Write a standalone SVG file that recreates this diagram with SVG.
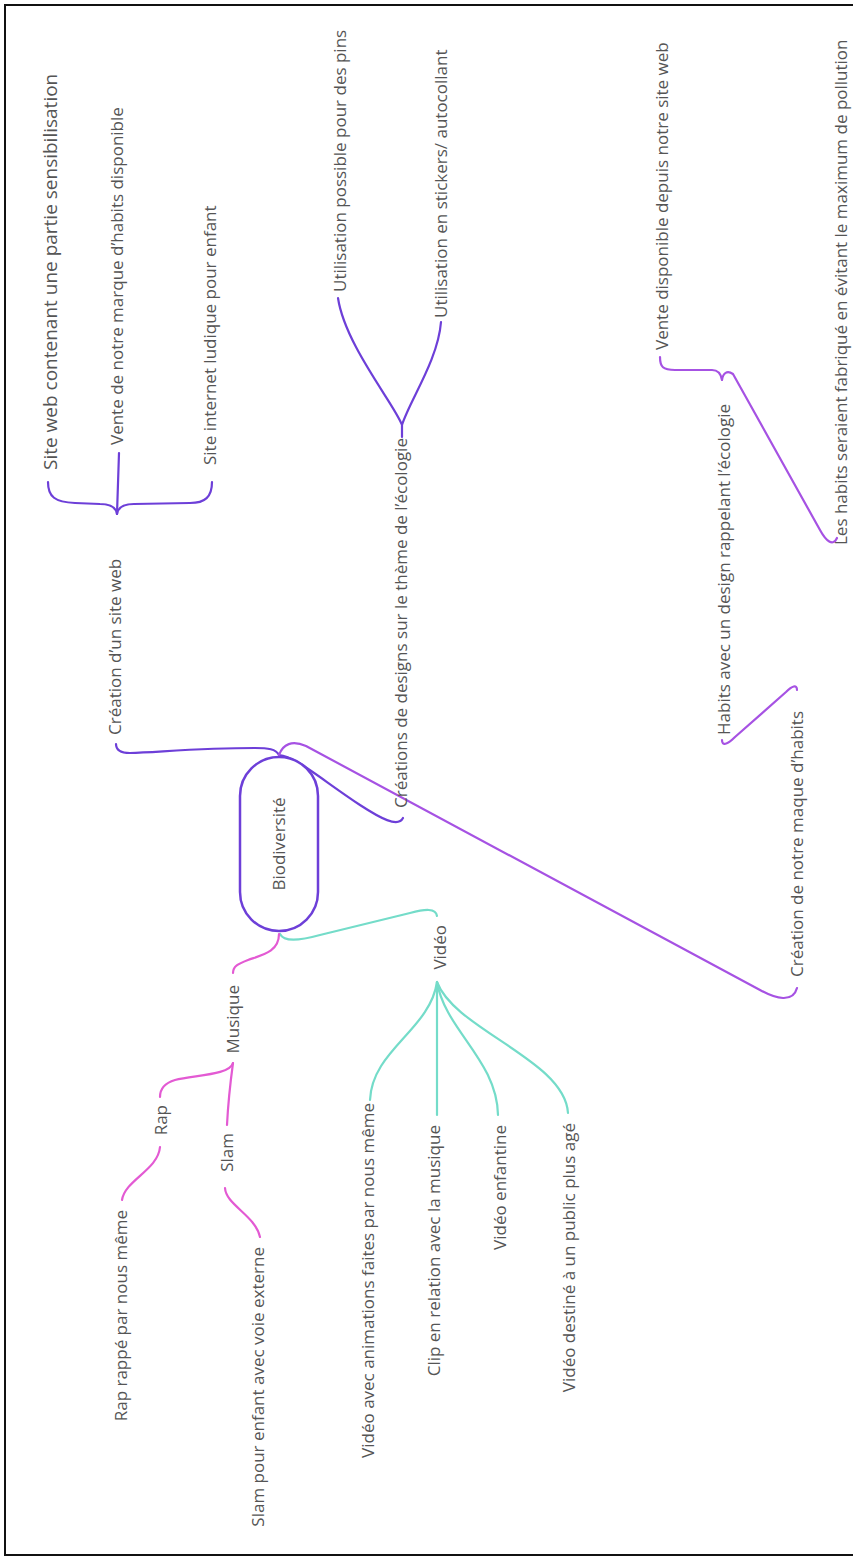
<svg xmlns="http://www.w3.org/2000/svg" width="853" height="1559" viewBox="0 0 853 1559">
<style>
.t{font-family:"Open Sans","Noto Sans",sans-serif;font-size:17px;fill:#555}
.e{text-anchor:end}
.c{fill:none;stroke-width:2.2;stroke-linecap:round;stroke-linejoin:round}
.p1{stroke:#6d3fd8}
.p2{stroke:#a652e3}
.pk{stroke:#e35ad3}
.tl{stroke:#74dcc9}
</style>
<rect width="853" height="1559" fill="#fff"/>
<path d="M853,5 H5 V1555 H853" fill="none" stroke="#111" stroke-width="2"/>
<g id="connectors">
<path class="c p1" d="M279,755 C276,749 268,748 255,748 C200,748 160,752 130,753 C120,753 116,750 116,744"/>
<path class="c p1" d="M279,755 C295,756 322,780 360,805 C380,818 398,828 403,818"/>
<path class="c p2" d="M279,755 C283,744 292,740 306,746 L760,990 C776,999 793,1003 797,988"/>
<path class="c p1" d="M48,482 C48,497 55,502 75,503 L100,504 C110,504 116,507 117,514 C118,507 124,504 134,504 L190,503 C205,503 212,497 212,482"/>
<path class="c p1" d="M117,514 L119,453"/>
<path class="c p1" d="M402,437 L402,425 C395,405 345,345 338,298"/>
<path class="c p1" d="M402,425 C410,400 438,360 441,322"/>
<path class="c p2" d="M797,690 C797,684 792,686 786,692 L735,737 C727,745 722,746 722,740"/>
<path class="c p2" d="M660,357 C660,367 663,370 675,370 L712,370 C718,370 721,374 722,380 C723,373 727,370 733,374 L820,530 C826,541 833,547 837,538"/>
<path class="c tl" d="M280,934 C284,942 298,941 320,935 L410,913 C425,909 436,908 437,916"/>
<path class="c tl" d="M437,982 C430,1030 372,1050 370,1100"/>
<path class="c tl" d="M437,982 L437,1115"/>
<path class="c tl" d="M437,982 C445,1030 497,1060 498,1115"/>
<path class="c tl" d="M437,982 C455,1030 565,1060 568,1113"/>
<path class="c pk" d="M279,934 C279,952 262,955 248,960 C238,964 233,966 233,973"/>
<path class="c pk" d="M233,1063 C230,1075 195,1075 175,1080 C165,1083 160,1088 160,1097"/>
<path class="c pk" d="M233,1063 C230,1085 228,1105 227,1125"/>
<path class="c pk" d="M160,1147 C158,1170 125,1180 122,1200"/>
<path class="c pk" d="M225,1188 C226,1205 255,1215 260,1237"/>
</g>
<g id="n-bio">
<rect x="240" y="757" width="78" height="174" rx="39" fill="#fff" stroke="#6d3fd8" stroke-width="2.5"/>
<text class="t" transform="translate(285,844) rotate(-90)" text-anchor="middle">Biodiversité</text>
</g>
<g id="n-site"><text class="t" transform="translate(121,735) rotate(-90)">Création d’un site web</text></g>
<g id="n-site1"><text class="t" transform="translate(57,470) rotate(-90)" style="font-size:19px">Site web contenant une partie sensibilisation</text></g>
<g id="n-site2"><text class="t" transform="translate(123,445) rotate(-90)">Vente de notre marque d’habits disponible</text></g>
<g id="n-site3"><text class="t" transform="translate(216,465) rotate(-90)">Site internet ludique pour enfant</text></g>
<g id="n-design"><text class="t" transform="translate(407,808) rotate(-90)">Créations de designs sur le thème de l’écologie</text></g>
<g id="n-design1"><text class="t" transform="translate(346,292) rotate(-90)">Utilisation possible pour des pins</text></g>
<g id="n-design2"><text class="t" transform="translate(447,318) rotate(-90)">Utilisation en stickers/ autocollant</text></g>
<g id="n-marque"><text class="t" transform="translate(803,977) rotate(-90)">Création de notre maque d’habits</text></g>
<g id="n-habits"><text class="t" transform="translate(730,735) rotate(-90)">Habits avec un design rappelant l’écologie</text></g>
<g id="n-vente"><text class="t" transform="translate(668,350) rotate(-90)">Vente disponible depuis notre site web</text></g>
<g id="n-pollution"><text class="t" transform="translate(847,545) rotate(-90)">Les habits seraient fabriqué en évitant le maximum de pollution</text></g>
<g id="n-musique"><text class="t e" transform="translate(239,985) rotate(-90)">Musique</text></g>
<g id="n-rap"><text class="t e" transform="translate(167,1105) rotate(-90)">Rap</text></g>
<g id="n-slam"><text class="t e" transform="translate(233,1133) rotate(-90)">Slam</text></g>
<g id="n-rap1"><text class="t e" transform="translate(127,1210) rotate(-90)">Rap rappé par nous même</text></g>
<g id="n-slam1"><text class="t e" transform="translate(264,1247) rotate(-90)">Slam pour enfant avec voie externe</text></g>
<g id="n-video"><text class="t e" transform="translate(446,925) rotate(-90)">Vidéo</text></g>
<g id="n-video1"><text class="t e" transform="translate(374,1103) rotate(-90)">Vidéo avec animations faites par nous même</text></g>
<g id="n-video2"><text class="t e" transform="translate(440,1125) rotate(-90)">Clip en relation avec la musique</text></g>
<g id="n-video3"><text class="t e" transform="translate(506,1125) rotate(-90)">Vidéo enfantine</text></g>
<g id="n-video4"><text class="t e" transform="translate(575,1123) rotate(-90)">Vidéo destiné à un public plus agé</text></g>
</svg>
